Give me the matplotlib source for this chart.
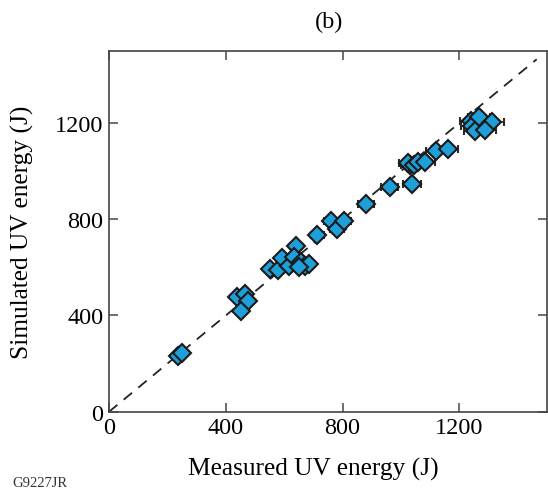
import matplotlib
matplotlib.use("Agg")
import matplotlib.pyplot as plt

# measured vs simulated UV energy (J)
measured = [235, 249, 440, 467, 477, 453, 552, 580, 593, 617, 640, 634, 657,
            671, 685, 651, 714, 759, 780, 804, 879, 961, 1039, 1032, 1025,
            1043, 1060, 1084, 1121, 1162, 1240, 1244, 1267, 1312, 1255, 1288]
simulated = [232, 245, 478, 490, 461, 420, 595, 590, 640, 607, 690, 644, 623,
             607, 615, 603, 734, 794, 760, 794, 865, 935, 948, 1024, 1032,
             1024, 1040, 1040, 1082, 1090, 1210, 1186, 1224, 1206, 1165, 1170]
meas_err = [8, 8, 14, 14, 14, 14, 18, 18, 18, 19, 20, 19, 20,
            20, 21, 20, 22, 23, 24, 25, 27, 29, 31, 31, 31,
            31, 32, 33, 34, 35, 37, 37, 38, 40, 38, 39]

ticks = [0, 400, 800, 1200]
lims = [0, 1500]
line_end = [0, 1465]

plt.rcParams['font.family'] = ['Liberation Serif', 'DejaVu Serif']

fig = plt.figure(figsize=(5.48, 4.89), dpi=100)
ax = fig.add_axes([0.199, 0.156, 0.799, 0.738])

ax.plot(line_end, line_end, color='#222222', lw=1.3, dashes=(6, 4.5), zorder=1)
ax.errorbar(measured, simulated, xerr=meas_err, fmt='D', ms=9,
            mfc='#1f9fd8', mec='#1a1a1a', mew=1.5, ecolor='#2a2a2a',
            elinewidth=1.2, capsize=3, capthick=1.2, zorder=3)

ax.set_xlim(lims)
ax.set_ylim(lims)
ax.set_xticks(ticks)
ax.set_yticks(ticks)
ax.tick_params(direction='in', length=6.5, width=1.2, color='#555555',
               top=True, right=True, labelsize=17.5, pad=4)
for sp in ax.spines.values():
    sp.set_color('#444444')
    sp.set_linewidth(1.2)

ax.set_xlabel('Measured UV energy (J)', fontsize=18.3)
ax.xaxis.set_label_coords(0.466, -0.125)
ax.set_ylabel('Simulated UV energy (J)', fontsize=18.3, labelpad=15)
fig.text(0.600, 0.975, '(b)', ha='center', va='top', fontsize=17.5)
fig.text(0.022, 0.024, 'G9227JR', ha='left', va='top', fontsize=10.5,
         color='#333333')

fig.savefig('out.png', dpi=100)
